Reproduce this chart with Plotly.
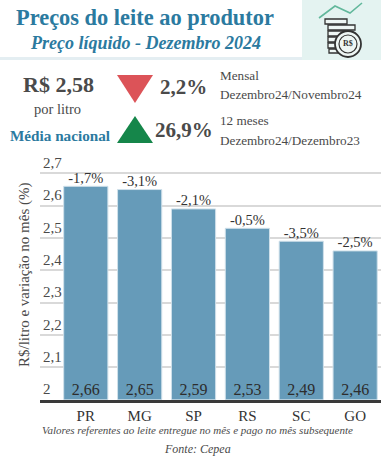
import plotly.graph_objects as go

W, H = 381, 457
states = ["PR", "MG", "SP", "RS", "SC", "GO"]
prices = [2.66, 2.65, 2.59, 2.53, 2.49, 2.46]
axis_floor = [2, 2, 2, 2, 2, 2]
price_labels = ["2,66", "2,65", "2,59", "2,53", "2,49", "2,46"]
monthly_labels = ["-1,7%", "-3,1%", "-2,1%", "-0,5%", "-3,5%", "-2,5%"]
tick_values = [2, 2.1, 2.2, 2.3, 2.4, 2.5, 2.6, 2.7]
tick_labels = ["2", "2,1", "2,2", "2,3", "2,4", "2,5", "2,6", "2,7"]

SERIF = "Liberation Serif"
BLUE = "#2b7a9f"
GREY = "#4a4a4a"

def px(x): return x / W
def py(y): return 1 - y / H

fig = go.Figure()
fig.add_trace(go.Bar(
    x=states, y=prices, width=0.82,
    marker=dict(color="#669bb9", line=dict(color="#cfe0ea", width=1)),
    hoverinfo="skip", showlegend=False))
fig.add_trace(go.Scatter(
    x=states, y=prices, mode="text", text=monthly_labels,
    textposition="top center",
    textfont=dict(family=SERIF, size=14.5, color="#333333"),
    hoverinfo="skip", showlegend=False, cliponaxis=False))
fig.add_trace(go.Scatter(
    x=states, y=axis_floor, mode="text", text=price_labels,
    textposition="top center",
    textfont=dict(family=SERIF, size=16, color="#2d2d2d"),
    hoverinfo="skip", showlegend=False, cliponaxis=False))

shapes = []
def rect(x0, y0, x1, y1, fill, line=None, lw=0, layer="below"):
    shapes.append(dict(type="rect", xref="paper", yref="paper",
                       x0=px(x0), x1=px(x1), y0=py(y0), y1=py(y1),
                       fillcolor=fill, line=dict(color=line or fill, width=lw), layer=layer))
def path(points, fill=None, line=None, lw=0, closed=True):
    d = "M " + " L ".join(f"{px(a):.5f},{py(b):.5f}" for a, b in points) + (" Z" if closed else "")
    shapes.append(dict(type="path", xref="paper", yref="paper", path=d,
                       fillcolor=fill if fill else "rgba(0,0,0,0)",
                       line=dict(color=line or "rgba(0,0,0,0)", width=lw), layer="above"))
def circle(cx, cy, r, fill, line, lw):
    shapes.append(dict(type="circle", xref="paper", yref="paper",
                       x0=px(cx - r), x1=px(cx + r), y0=py(cy + r), y1=py(cy - r),
                       fillcolor=fill, line=dict(color=line, width=lw), layer="above"))

# header
rect(0, 57, 381, 60, "#e4eef2")
rect(302, 0, 381, 60, "#e4f3f1")
# icon
path([(319, 18), (335, 6), (350, 13), (362, 3)], line="#62b89c", lw=1.6, closed=False)
for (a, b, c, d) in [(325, 19, 347, 24), (328, 25, 355, 30), (328, 31, 345, 36),
                     (328, 37, 345, 42), (328, 43, 345, 48), (329, 49, 345, 53)]:
    rect(a, b, c, d, "#eef6f4", "#333333", 1.3, layer="above")
circle(348, 44, 13, "#eef6f4", "#333333", 1.8)
circle(348, 44, 9, "#eef6f4", "#333333", 1.2)
# triangles
path([(117, 75), (153, 75), (135, 103)], fill="#dc5358")
path([(117, 143), (153, 143), (135, 116)], fill="#15864a")
fig.update_layout(shapes=shapes)

def note(x, y, text, size, color=GREY, bold=False, italic=False, anchor="center"):
    t = text
    if bold: t = f"<b>{t}</b>"
    if italic: t = f"<i>{t}</i>"
    fig.add_annotation(xref="paper", yref="paper", x=px(x), y=py(y), text=t, showarrow=False,
                       xanchor=anchor, yanchor="middle", borderpad=0,
                       font=dict(family=SERIF, size=size, color=color))

note(144.5, 18, "Preços do leite ao produtor", 22.4, BLUE, bold=True)
note(145, 43, "Preço líquido - Dezembro 2024", 18, BLUE, bold=True, italic=True)
note(58, 84, "R$ 2,58", 22, GREY, bold=True)
note(57, 109, "por litro", 14.5, GREY)
note(60, 135, "Média nacional", 15.2, BLUE, bold=True)
note(183, 87, "2,2%", 21, GREY, bold=True)
note(184, 130, "26,9%", 21, GREY, bold=True)
note(219, 76, "Mensal", 13.2, GREY, anchor="left")
note(219, 95, "Dezembro24/Novembro24", 13.2, GREY, anchor="left")
note(219, 120, "12 meses", 13.2, GREY, anchor="left")
note(219, 140, "Dezembro24/Dezembro23", 13.2, GREY, anchor="left")
note(348, 44, "R$", 8, "#333333", bold=True)
fig.add_annotation(xref="paper", yref="paper", x=px(24), y=py(275), text="R$/litro e variação no mês (%)",
                   showarrow=False, textangle=-90, xanchor="center", yanchor="middle",
                   font=dict(family=SERIF, size=15, color=GREY))
note(197, 430, "Valores referentes ao leite entregue no mês e pago no mês subsequente", 11, GREY, italic=True)
note(197, 449, "Fonte: Cepea", 12, GREY, italic=True)

# y range runs past the top tick so the "2,7" label, drawn above its gridline, is kept
fig.update_layout(
    width=W, height=H, margin=dict(l=0, r=0, t=0, b=0),
    paper_bgcolor="white", plot_bgcolor="rgba(0,0,0,0)",
    xaxis=dict(domain=[px(40), 1], range=[-0.85, 5.48], type="category", showgrid=False,
               showline=True, linecolor="#3a3a3a", linewidth=3, ticks="", anchor="y",
               tickfont=dict(family=SERIF, size=15, color="#333333"), fixedrange=True),
    yaxis=dict(domain=[py(399.5), py(141.1)], range=[2, 2.8], tickvals=tick_values, ticktext=tick_labels,
               ticklabelposition="inside top", showgrid=True, gridcolor="#d9d9d9", gridwidth=1.5,
               zeroline=False, showline=False, ticks="", anchor="x",
               tickfont=dict(family=SERIF, size=15, color="#4a4a4a"), fixedrange=True),
)
fig.write_html("out.html", config={"displayModeBar": False},
               post_script="document.body.style.margin='0';")
